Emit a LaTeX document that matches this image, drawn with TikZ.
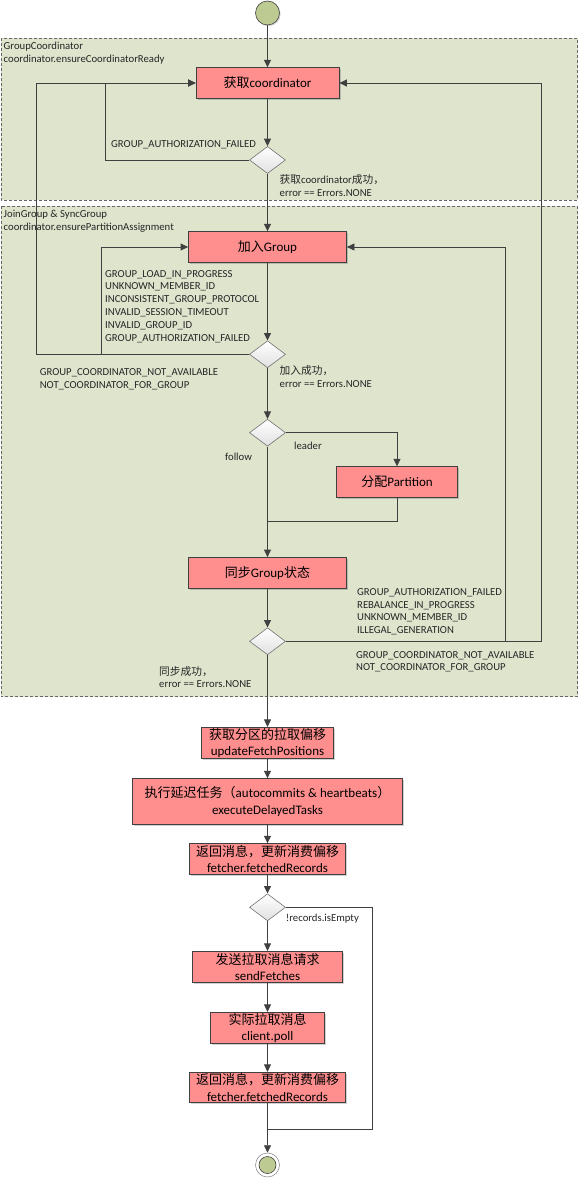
\documentclass[tikz,border=0pt]{standalone}
\usepackage{fontspec}
\setmainfont{Carlito}
\newfontfamily\cjk{Noto Sans CJK SC}
\usetikzlibrary{arrows.meta,shapes.geometric,shadows,calc}
\definecolor{boxred}{RGB}{255,143,143}
\definecolor{edgegray}{RGB}{64,64,64}
\definecolor{groupbg}{RGB}{223,228,205}
\definecolor{startgreen}{RGB}{189,203,146}
\begin{document}
\begin{tikzpicture}[x=1pt,y=-1pt,
  stepbox/.style={draw=edgegray, line width=0.8pt, fill=boxred, minimum height=30.6pt, inner sep=0pt,
    font=\fontsize{13}{16.5}\selectfont, align=center,
    drop shadow={shadow xshift=1.5pt, shadow yshift=-1.5pt, fill=black, opacity=0.18}},
  decide/.style={diamond, draw=black!55, line width=0.6pt, top color=white, bottom color=black!12,
    minimum width=36pt, minimum height=27pt, inner sep=0pt},
  lbl/.style={inner sep=0pt, font=\fontsize{10.7}{12.9}\selectfont, align=left, anchor=west, text=black!85},
  conn/.style={draw=edgegray, line width=0.8pt},
  arr/.style={conn, -{Triangle[length=7.5pt,width=7pt]}},
  group/.style={draw=black!60, dash pattern=on 3pt off 2pt, fill=groupbg, line width=0.6pt}
]
\useasboundingbox (0,0) rectangle (579,1180);

% group areas
\path[group] (1,38.3) rectangle (577.5,200);
\path[group] (1,206) rectangle (577.5,696.7);
\node[lbl] (g1) at (3.5,53.3) {GroupCoordinator\\coordinator.ensureCoordinatorReady};
\node[lbl] (g2) at (3.5,221.2) {JoinGroup \& SyncGroup\\coordinator.ensurePartitionAssignment};

% helper x positions
\coordinate (xa) at (105.7,0);
\coordinate (xb) at (36,0);
\coordinate (xc) at (101.7,0);
\coordinate (xd) at (505,0);
\coordinate (xe) at (541,0);
\coordinate (xf) at (372.7,0);
\coordinate (m1) at (267.5,521);
\coordinate (m2) at (267.5,1129);

% nodes
\node[circle, draw=edgegray, fill=startgreen, minimum size=24pt, inner sep=0pt, line width=0.6pt,
  drop shadow={shadow xshift=1.2pt, shadow yshift=-1.2pt, fill=black, opacity=0.15}] (start) at (267.5,13) {};
\node[stepbox, minimum width=143pt] (A) at (267.5,83) {{\cjk 获取}coordinator};
\node[decide] (D1) at (267.5,160) {};
\node[stepbox, minimum width=158pt] (B) at (267.5,247) {{\cjk 加入}Group};
\node[decide] (D2) at (267.5,354.3) {};
\node[decide] (D3) at (267.5,432.7) {};
\node[stepbox, minimum width=120.5pt] (P) at (397,482) {{\cjk 分配}Partition};
\node[stepbox, minimum width=158pt] (C) at (267.5,572.8) {{\cjk 同步}Group{\cjk 状态}};
\node[decide] (D4) at (267.5,641.3) {};
\node[stepbox, minimum width=131.6pt, minimum height=31.3pt] (E1) at (267.5,743) {{\cjk 获取分区的拉取偏移}\\updateFetchPositions};
\node[stepbox, minimum width=270pt, minimum height=45.6pt] (E2) at (267.5,801.5) {{\cjk 执行延迟任务（}autocommits \& heartbeats{\cjk ）}\\executeDelayedTasks};
\node[stepbox, minimum width=156.4pt] (E3) at (267.5,859) {{\cjk 返回消息，更新消费偏移}\\fetcher.fetchedRecords};
\node[decide] (D5) at (267.5,907.3) {};
\node[stepbox, minimum width=150pt, minimum height=31pt] (F1) at (267.5,966.8) {{\cjk 发送拉取消息请求}\\sendFetches};
\node[stepbox, minimum width=114pt, minimum height=31pt] (F2) at (267.5,1027.8) {{\cjk 实际拉取消息}\\client.poll};
\node[stepbox, minimum width=156.4pt, minimum height=30pt] (F3) at (267.5,1087.3) {{\cjk 返回消息，更新消费偏移}\\fetcher.fetchedRecords};
\node[circle, draw=black!50, fill=white, minimum size=24pt, inner sep=0pt, line width=0.5pt] (end) at (267.5,1165) {};
\node[circle, draw=edgegray, fill=startgreen, minimum size=17pt, inner sep=0pt, line width=0.6pt] (endin) at (end.center) {};

% labels
\node[lbl] (l1) at (111,144.7) {GROUP\_AUTHORIZATION\_FAILED};
\node[lbl] (l2) at (279.5,185.5) {{\cjk 获取}coordinator{\cjk 成功，}\\error == Errors.NONE};
\node[lbl] (l3) at (105,306.5) {GROUP\_LOAD\_IN\_PROGRESS\\UNKNOWN\_MEMBER\_ID\\INCONSISTENT\_GROUP\_PROTOCOL\\INVALID\_SESSION\_TIMEOUT\\INVALID\_GROUP\_ID\\GROUP\_AUTHORIZATION\_FAILED};
\node[lbl] (l4) at (39.6,379.5) {GROUP\_COORDINATOR\_NOT\_AVAILABLE\\NOT\_COORDINATOR\_FOR\_GROUP};
\node[lbl] (l5) at (279.5,376.7) {{\cjk 加入成功，}\\error == Errors.NONE};
\node[lbl, anchor=center] (l6) at (308,445.7) {leader};
\node[lbl, anchor=center] (l7) at (238.5,457.3) {follow};
\node[lbl] (l8) at (357,611.7) {GROUP\_AUTHORIZATION\_FAILED\\REBALANCE\_IN\_PROGRESS\\UNKNOWN\_MEMBER\_ID\\ILLEGAL\_GENERATION};
\node[lbl] (l9) at (356,661.7) {GROUP\_COORDINATOR\_NOT\_AVAILABLE\\NOT\_COORDINATOR\_FOR\_GROUP};
\node[lbl] (l10) at (159,677) {{\cjk 同步成功，}\\error == Errors.NONE};
\node[lbl] (l11) at (285.7,919) {!records.isEmpty};

% connectors
\draw[arr] (start) -- (A);
\draw[arr] (A) -- (D1);
\draw[arr] (D1.west) -- (D1.west -| xa) |- (A.west);
\draw[arr] (D1) -- (B);
\draw[arr] (B) -- (D2);
\draw[arr] (D2.west) -- (D2.west -| xc) |- (B.west);
\draw[arr] (D2.west) -- (D2.west -| xb) |- (A.west);
\draw[arr] (D2) -- (D3);
\draw[arr] (D3.east) -| (P.north);
\draw[arr] (D3) -- (C);
\draw[conn] (P.south) |- (m1);
\draw[arr] (C) -- (D4);
\draw[arr] (D4.east) -- (D4.east -| xd) |- (B.east);
\draw[arr] (D4.east) -- (D4.east -| xe) |- (A.east);
\draw[arr] (D4) -- (E1);
\draw[arr] (E1) -- (E2);
\draw[arr] (E2) -- (E3);
\draw[arr] (E3) -- (D5);
\draw[arr] (D5) -- (F1);
\draw[arr] (F1) -- (F2);
\draw[arr] (F2) -- (F3);
\draw[arr] (F3) -- (end);
\draw[conn] (D5.east) -- (D5.east -| xf) |- (m2);
\end{tikzpicture}
\end{document}
